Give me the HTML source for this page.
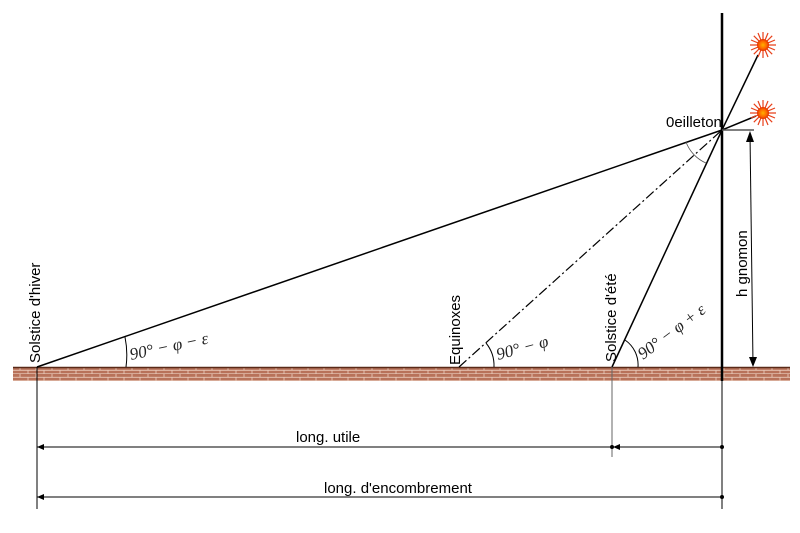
<!DOCTYPE html>
<html><head><meta charset="utf-8"><style>
html,body{margin:0;padding:0;background:#fff;}
svg{display:block;}
text{font-family:"Liberation Sans",sans-serif;}
.m{font-family:"Liberation Serif",serif;font-style:italic;font-size:17px;fill:#222;}
</style></head><body>
<svg width="800" height="533" viewBox="0 0 800 533" xmlns="http://www.w3.org/2000/svg">
<defs>
<pattern id="brick" x="0" y="367" width="16" height="7" patternUnits="userSpaceOnUse">
<rect width="16" height="7" fill="#b8725a"/>
<line x1="0" y1="3.3" x2="16" y2="3.3" stroke="#e8c8b8" stroke-width="0.9"/>
<line x1="0" y1="6.8" x2="16" y2="6.8" stroke="#e8c8b8" stroke-width="0.9"/>
<line x1="4" y1="0" x2="4" y2="3.3" stroke="#e8c8b8" stroke-width="0.9"/>
<line x1="12" y1="3.3" x2="12" y2="7" stroke="#e8c8b8" stroke-width="0.9"/>
</pattern>
<radialGradient id="sun"><stop offset="0" stop-color="#ffb000"/><stop offset="0.6" stop-color="#ff6a00"/><stop offset="1" stop-color="#e03000"/></radialGradient>
<g id="sunG">
<g stroke="#e8401a" stroke-width="1.2">
<line x1="-13" y1="0" x2="13" y2="0"/><line x1="0" y1="-13" x2="0" y2="13"/>
<line x1="-9.2" y1="-9.2" x2="9.2" y2="9.2"/><line x1="-9.2" y1="9.2" x2="9.2" y2="-9.2"/>
<line x1="-12" y1="-5" x2="12" y2="5"/><line x1="-12" y1="5" x2="12" y2="-5"/>
<line x1="-5" y1="-12" x2="5" y2="12"/><line x1="-5" y1="12" x2="5" y2="-12"/>
</g>
<circle r="6" fill="url(#sun)"/>
</g>
</defs>
<rect x="13" y="367" width="777" height="14" fill="url(#brick)"/>
<line x1="13" y1="367.5" x2="790" y2="367.5" stroke="#5a2a18" stroke-width="1.5"/>
<line x1="722" y1="13" x2="722" y2="381" stroke="#000" stroke-width="2.5"/>
<line x1="37" y1="367" x2="722" y2="130" stroke="#000" stroke-width="1.5"/>
<line x1="459" y1="367" x2="722" y2="130" stroke="#000" stroke-width="1.2" stroke-dasharray="10,3,2,3"/>
<line x1="612" y1="367" x2="722" y2="130" stroke="#000" stroke-width="1.5"/>
<line x1="722" y1="130" x2="758" y2="55" stroke="#000" stroke-width="1.5"/>
<line x1="722" y1="130" x2="756" y2="116" stroke="#000" stroke-width="1.5"/>
<line x1="722" y1="130" x2="754" y2="130" stroke="#555" stroke-width="1.5"/>
<use href="#sunG" x="763" y="45"/>
<use href="#sunG" x="763" y="113"/>
<path d="M686 142 A37 37 0 0 0 706 163" fill="none" stroke="#555" stroke-width="0.8"/>
<path d="M125 337 A90 90 0 0 1 126 367" fill="none" stroke="#000" stroke-width="1"/>
<path d="M486 343 A36 36 0 0 1 494 367" fill="none" stroke="#000" stroke-width="1"/>
<path d="M625 340 A30 30 0 0 1 638 367" fill="none" stroke="#000" stroke-width="1"/>
<line x1="750" y1="134" x2="753" y2="364" stroke="#000" stroke-width="1"/>
<path d="M746 142 L750 131 L754 142 Z" fill="#000"/>
<path d="M749 357 L753 367 L757 357 Z" fill="#000"/>
<line x1="37" y1="367" x2="37" y2="509" stroke="#000" stroke-width="1"/>
<line x1="612" y1="367" x2="612" y2="457" stroke="#666" stroke-width="1"/>
<line x1="722" y1="381" x2="722" y2="509" stroke="#000" stroke-width="1"/>
<line x1="37" y1="447" x2="612" y2="447" stroke="#000" stroke-width="1"/>
<path d="M37 447 L44 444 L44 450 Z" fill="#000"/>
<circle cx="612" cy="447" r="2" fill="#000"/>
<line x1="612" y1="447" x2="722" y2="447" stroke="#000" stroke-width="1"/>
<path d="M613 447 L620 444 L620 450 Z" fill="#000"/>
<circle cx="722" cy="447" r="2" fill="#000"/>
<line x1="37" y1="497" x2="722" y2="497" stroke="#000" stroke-width="1"/>
<path d="M37 497 L44 494 L44 500 Z" fill="#000"/>
<circle cx="722" cy="497" r="2" fill="#000"/>
<text x="666" y="127" font-size="15">0eilleton</text>
<text x="296" y="442" font-size="15">long. utile</text>
<text x="324" y="493" font-size="15">long. d'encombrement</text>
<text transform="translate(40,363) rotate(-90)" font-size="15">Solstice d'hiver</text>
<text transform="translate(460,365) rotate(-90)" font-size="15">Equinoxes</text>
<text transform="translate(616,362) rotate(-90)" font-size="15">Solstice d'été</text>
<text transform="translate(747,297) rotate(-90)" font-size="15">h gnomon</text>
<text class="m" transform="translate(131,360) rotate(-12)">90° − φ − ε</text>
<text class="m" transform="translate(498,360) rotate(-15)">90° − φ</text>
<text class="m" transform="translate(643,360) rotate(-37)">90° − φ + ε</text>
</svg>
</body></html>
